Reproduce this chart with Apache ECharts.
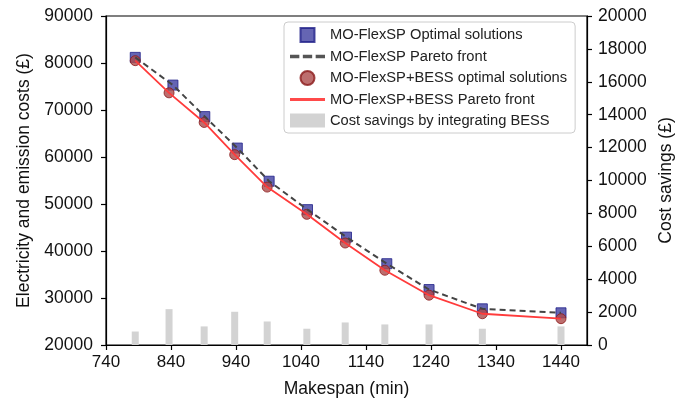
<!DOCTYPE html>
<html>
<head>
<meta charset="utf-8">
<script src="https://cdn.jsdelivr.net/npm/echarts@6/dist/echarts.min.js"></script>
<style>
  html, body { margin: 0; padding: 0; background: #fff; }
  #chart { width: 685px; height: 403px; }
</style>
</head>
<body>
<div id="chart"></div>
<script>
// makespan (min) and costs
const spanFlex = [785, 843, 892, 942, 991, 1050, 1110, 1172, 1237, 1319, 1440];
const costFlex = [81200, 75300, 68600, 61900, 54850, 48800, 42950, 37300, 31800, 27700, 26850];
const spanBess = [785, 837, 891, 938, 988, 1049, 1108, 1169, 1237, 1319, 1440];
const costBess = [80500, 73650, 67350, 60500, 53600, 47800, 41700, 35900, 30600, 26650, 25600];
const savings = [820, 2180, 1130, 2020, 1430, 990, 1370, 1250, 1250, 990, 1130];

const pair = (xs, ys) => xs.map((x, i) => [x, ys[i]]);
const plain = v => String(v);

const font = 'Liberation Sans, Arial, sans-serif';
const chart = echarts.init(document.getElementById('chart'));

const option = {
  animation: false,
  textStyle: { fontFamily: font },
  grid: {
    left: 106, right: 98, top: 16, bottom: 58,
    show: true, borderColor: '#000', borderWidth: 1.2,
  },
  legend: {
    orient: 'vertical',
    left: 284, top: 22,
    padding: [5, 8, 5, 6],
    itemWidth: 35, itemHeight: 14, itemGap: 6,
    backgroundColor: '#fff',
    borderColor: '#ccc', borderWidth: 1, borderRadius: 4,
    textStyle: { fontSize: 14.7, color: '#222', fontFamily: font },
    symbolKeepAspect: true,
    data: [
      { name: 'MO-FlexSP Optimal solutions', icon: 'path://M0,0h10v10h-10z' },
      { name: 'MO-FlexSP Pareto front', icon: 'path://M0,0h8v3h-8zM11,0h8v3h-8zM22,0h8v3h-8z', itemStyle: { color: '#555' } },
      { name: 'MO-FlexSP+BESS optimal solutions', icon: 'circle' },
      { name: 'MO-FlexSP+BESS Pareto front', icon: 'path://M0,0h30v2.6h-30z', itemStyle: { color: '#ff4a4a' } },
      { name: 'Cost savings by integrating BESS', icon: 'path://M0,0h30v12h-30z' },
    ],
  },
  xAxis: {
    type: 'value',
    min: 740, max: 1480, interval: 100,
    name: 'Makespan (min)',
    nameLocation: 'middle', nameGap: 35,
    nameTextStyle: { fontSize: 17.5, color: '#111' },
    axisLine: { lineStyle: { color: '#000', width: 1.2 } },
    axisTick: { length: 5, lineStyle: { color: '#000', width: 1.2 } },
    axisLabel: { fontSize: 17, color: '#111', margin: 9, showMaxLabel: false, formatter: plain },
    splitLine: { show: false },
  },
  yAxis: [
    {
      type: 'value',
      min: 20000, max: 90000, interval: 10000,
      name: 'Electricity and emission costs (£)',
      nameLocation: 'middle', nameGap: 72,
      nameTextStyle: { fontSize: 17.5, color: '#111' },
      axisLine: { show: true, lineStyle: { color: '#000', width: 1.2 } },
      axisTick: { show: true, length: 5, lineStyle: { color: '#000', width: 1.2 } },
      axisLabel: { fontSize: 17.5, color: '#111', margin: 13, formatter: plain },
      splitLine: { show: false },
    },
    {
      type: 'value',
      min: 0, max: 20000, interval: 2000,
      name: 'Cost savings (£)',
      nameLocation: 'middle', nameGap: 66,
      nameRotate: 90,
      nameTextStyle: { fontSize: 17.5, color: '#111' },
      axisLine: { show: true, lineStyle: { color: '#000', width: 1.2 } },
      axisTick: { show: true, length: 5, lineStyle: { color: '#000', width: 1.2 } },
      axisLabel: { fontSize: 17.5, color: '#111', margin: 11, formatter: plain },
      splitLine: { show: false },
    },
  ],
  series: [
    {
      name: 'Cost savings by integrating BESS',
      type: 'bar',
      yAxisIndex: 1,
      barWidth: 7,
      data: pair(spanBess, savings),
      itemStyle: { color: '#d3d3d3' },
      z: 1,
    },
    {
      name: 'MO-FlexSP Optimal solutions',
      type: 'scatter',
      symbol: 'rect',
      symbolSize: 10,
      data: pair(spanFlex, costFlex),
      itemStyle: { color: '#3f3fa0', borderColor: '#1f1f88', borderWidth: 1 },
      z: 2,
    },
    {
      name: 'MO-FlexSP+BESS optimal solutions',
      type: 'scatter',
      symbol: 'circle',
      symbolSize: 10,
      data: pair(spanBess, costBess),
      itemStyle: { color: '#ad4a4a', borderColor: '#8b1a1a', borderWidth: 1 },
      z: 2,
    },
    {
      name: 'MO-FlexSP Pareto front',
      type: 'line',
      symbol: 'none',
      data: pair(spanFlex, costFlex),
      lineStyle: { color: '#444', width: 2, type: [6, 4] },
      itemStyle: { color: '#444' },
      z: 3,
    },
    {
      name: 'MO-FlexSP+BESS Pareto front',
      type: 'line',
      symbol: 'none',
      data: pair(spanBess, costBess),
      lineStyle: { color: '#ff3b3b', width: 1.8 },
      itemStyle: { color: '#ff3b3b' },
      z: 3,
    },
  ],
};

chart.setOption(option);
window.addEventListener('resize', () => chart.resize());
</script>
</body>
</html>
